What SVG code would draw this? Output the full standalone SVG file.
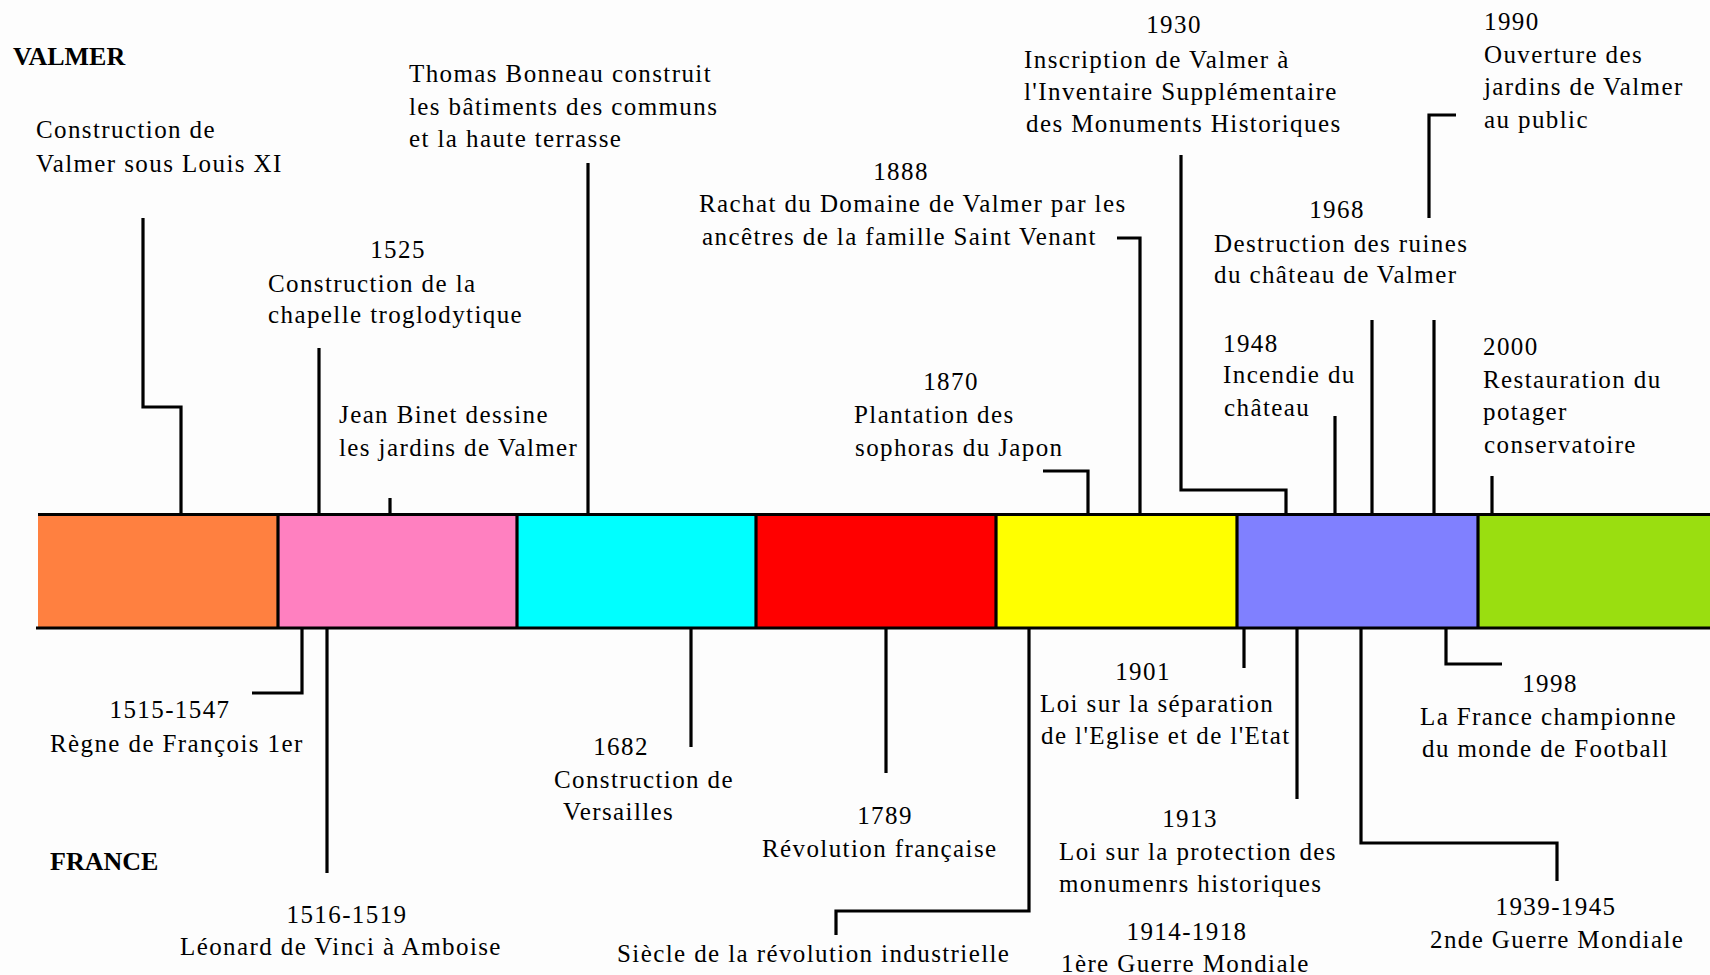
<svg xmlns="http://www.w3.org/2000/svg" width="1710" height="975" viewBox="0 0 1710 975">
<style>
text{font-family:"Liberation Serif","Times New Roman",serif;font-size:25px;letter-spacing:1.4px;fill:#000}
.h{font-weight:bold;font-size:26px;letter-spacing:0}
.m{text-anchor:middle}
.c{fill:none;stroke:#000;stroke-width:3.2}
.b{stroke:#000;stroke-width:3.2}
</style>
<rect width="1710" height="975" fill="#fdfdfd"/>
<g id="bar">
<rect x="38" y="514" width="240" height="114" fill="#ff8040"/>
<rect x="278" y="514" width="239" height="114" fill="#ff80c0"/>
<rect x="517" y="514" width="239" height="114" fill="#00ffff"/>
<rect x="756" y="514" width="240" height="114" fill="#ff0000"/>
<rect x="996" y="514" width="241" height="114" fill="#ffff00"/>
<rect x="1237" y="514" width="241" height="114" fill="#8080ff"/>
<rect x="1478" y="514" width="232" height="114" fill="#9ade10"/>
<line class="b" x1="38" y1="514.5" x2="1710" y2="514.5"/>
<line class="b" x1="36" y1="628" x2="1710" y2="628"/>
<line class="b" x1="278" y1="514" x2="278" y2="628"/>
<line class="b" x1="517" y1="514" x2="517" y2="628"/>
<line class="b" x1="756" y1="514" x2="756" y2="628"/>
<line class="b" x1="996" y1="514" x2="996" y2="628"/>
<line class="b" x1="1237" y1="514" x2="1237" y2="628"/>
<line class="b" x1="1478" y1="514" x2="1478" y2="628"/>
</g>
<g id="connectors">
<path class="c" d="M143 218V407H181V514"/>
<path class="c" d="M319 348V514"/>
<path class="c" d="M390 498V514"/>
<path class="c" d="M588 163V514"/>
<path class="c" d="M1043 471H1088V514"/>
<path class="c" d="M1117 238H1140V514"/>
<path class="c" d="M1181 155V490H1286V514"/>
<path class="c" d="M1335 416V514"/>
<path class="c" d="M1372 320V514"/>
<path class="c" d="M1456 115H1429V218"/>
<path class="c" d="M1434 320V514"/>
<path class="c" d="M1492 476V514"/>
<path class="c" d="M302 628V693H252"/>
<path class="c" d="M327 628V873"/>
<path class="c" d="M691 628V747"/>
<path class="c" d="M886 628V773"/>
<path class="c" d="M1029 628V911H836V935"/>
<path class="c" d="M1244 628V668"/>
<path class="c" d="M1297 628V799"/>
<path class="c" d="M1361 628V843H1557V881"/>
<path class="c" d="M1446 628V664H1502"/>
</g>
<g id="title-valmer"><text class="h" x="13" y="65">VALMER</text></g>
<g id="title-france"><text class="h" x="50" y="870">FRANCE</text></g>
<g id="louis11"><text x="36" y="138">Construction de</text><text x="36" y="172">Valmer sous Louis XI</text></g>
<g id="thomas"><text x="409" y="82">Thomas Bonneau construit</text><text x="409" y="115">les bâtiments des communs</text><text x="409" y="147">et la haute terrasse</text></g>
<g id="e1525"><text class="m" x="398" y="258">1525</text><text x="268" y="292">Construction de la</text><text x="268" y="323">chapelle troglodytique</text></g>
<g id="binet"><text x="339" y="423">Jean Binet dessine</text><text x="339" y="456">les jardins de Valmer</text></g>
<g id="e1888"><text class="m" x="901" y="180">1888</text><text x="699" y="212">Rachat du Domaine de Valmer par les</text><text x="702" y="245">ancêtres de la famille Saint Venant</text></g>
<g id="e1870"><text class="m" x="951" y="390">1870</text><text x="854" y="423">Plantation des</text><text x="855" y="456">sophoras du Japon</text></g>
<g id="e1930"><text class="m" x="1174" y="33">1930</text><text x="1024" y="68">Inscription de Valmer à</text><text x="1024" y="100">l'Inventaire Supplémentaire</text><text x="1026" y="132">des Monuments Historiques</text></g>
<g id="e1968"><text class="m" x="1337" y="218">1968</text><text x="1214" y="252">Destruction des ruines</text><text x="1214" y="283">du château de Valmer</text></g>
<g id="e1948"><text x="1223" y="352">1948</text><text x="1223" y="383">Incendie du</text><text x="1224" y="416">château</text></g>
<g id="e1990"><text x="1484" y="30">1990</text><text x="1484" y="63">Ouverture des</text><text x="1484" y="95">jardins de Valmer</text><text x="1484" y="128">au public</text></g>
<g id="e2000"><text x="1483" y="355">2000</text><text x="1483" y="388">Restauration du</text><text x="1483" y="420">potager</text><text x="1484" y="453">conservatoire</text></g>
<g id="e1515"><text class="m" x="170" y="718">1515-1547</text><text x="50" y="752">Règne de François 1er</text></g>
<g id="e1516"><text class="m" x="347" y="923">1516-1519</text><text x="180" y="955">Léonard de Vinci à Amboise</text></g>
<g id="e1682"><text class="m" x="621" y="755">1682</text><text x="554" y="788">Construction de</text><text x="563" y="820">Versailles</text></g>
<g id="e1789"><text class="m" x="885" y="824">1789</text><text x="762" y="857">Révolution française</text></g>
<g id="siecle"><text x="617" y="962">Siècle de la révolution industrielle</text></g>
<g id="e1901"><text class="m" x="1143" y="680">1901</text><text x="1040" y="712">Loi sur la séparation</text><text x="1041" y="744">de l'Eglise et de l'Etat</text></g>
<g id="e1913"><text class="m" x="1190" y="827">1913</text><text x="1059" y="860">Loi sur la protection des</text><text x="1059" y="892">monumenrs historiques</text></g>
<g id="e1914"><text class="m" x="1187" y="940">1914-1918</text><text x="1061" y="972">1ère Guerre Mondiale</text></g>
<g id="e1998"><text class="m" x="1550" y="692">1998</text><text x="1420" y="725">La France championne</text><text x="1422" y="757">du monde de Football</text></g>
<g id="e1939"><text class="m" x="1556" y="915">1939-1945</text><text x="1430" y="948">2nde Guerre Mondiale</text></g>
</svg>
